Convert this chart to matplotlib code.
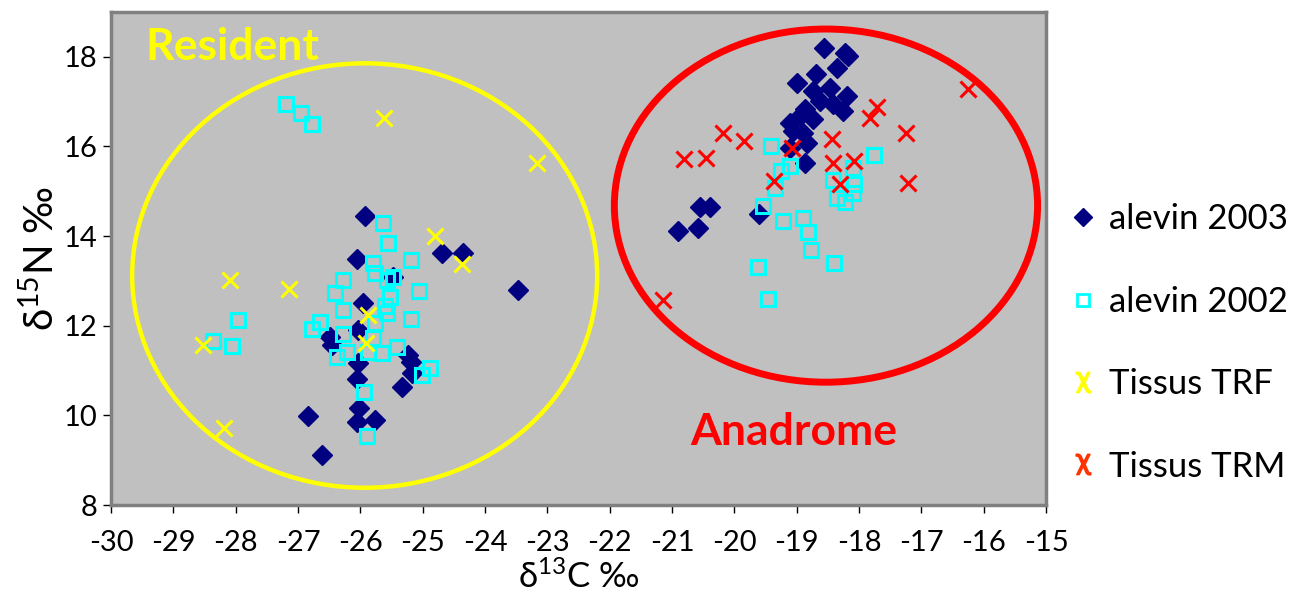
import matplotlib
matplotlib.use("Agg")
import matplotlib.pyplot as plt
from matplotlib.patches import Ellipse
from matplotlib.lines import Line2D

plt.rcParams['font.family'] = ['Lato', 'DejaVu Sans']
plt.rcParams['mathtext.default'] = 'regular'
plt.rcParams['axes.unicode_minus'] = False

# alevin 2003 (navy diamonds)
a2003_x = [-25.93, -26.05, -25.48, -24.69, -24.35, -23.47, -25.96, -26.04, -26.49, -26.45,
           -26.04, -26.05, -25.24, -25.19, -25.17, -25.33, -26.02, -26.05, -25.76, -26.84, -26.61,
           -18.56, -18.22, -18.18, -18.35, -18.69, -18.99, -18.46, -18.19, -18.74, -18.63,
           -18.42, -18.26, -18.87, -18.95, -18.74, -19.11, -19.06, -18.90, -18.83, -19.11,
           -18.87, -20.55, -20.39, -20.90, -20.58, -19.60]
a2003_y = [14.44, 13.48, 13.08, 13.63, 13.63, 12.79, 12.50, 11.90, 11.74, 11.56,
           11.16, 10.81, 11.34, 11.18, 10.94, 10.63, 10.16, 9.85, 9.89, 9.98, 9.11,
           18.20, 18.09, 18.02, 17.76, 17.62, 17.42, 17.31, 17.13, 17.24, 17.02,
           16.95, 16.80, 16.84, 16.69, 16.62, 16.53, 16.35, 16.29, 16.08, 15.97,
           15.62, 14.64, 14.64, 14.12, 14.17, 14.50]

# alevin 2002 (cyan hollow squares)
a2002_x = [-27.19, -26.95, -26.78, -27.96, -28.36, -28.06, -25.64, -25.56, -25.19, -25.80,
           -25.76, -25.48, -25.57, -26.28, -25.06, -26.41, -25.52, -25.60, -26.28, -25.57,
           -25.19, -25.76, -26.65, -26.78, -26.28, -25.80, -26.21, -26.37, -25.88, -25.65,
           -25.41, -24.88, -25.01, -25.94, -25.89,
           -19.41, -17.76, -19.11, -19.25, -19.35, -18.42, -18.10, -18.08, -18.35, -18.22,
           -18.10, -19.54, -19.22, -18.90, -18.82, -18.77, -18.40, -19.62, -19.46]
a2002_y = [16.95, 16.75, 16.49, 12.12, 11.65, 11.54, 14.30, 13.84, 13.46, 13.39,
           13.17, 13.08, 13.01, 13.01, 12.77, 12.72, 12.65, 12.45, 12.34, 12.28,
           12.16, 12.05, 12.08, 11.92, 11.81, 11.72, 11.41, 11.30, 11.41, 11.39,
           11.52, 11.05, 10.90, 10.52, 9.54,
           16.02, 15.80, 15.57, 15.46, 15.08, 15.26, 15.53, 15.17, 14.84, 14.75,
           14.97, 14.68, 14.33, 14.41, 14.10, 13.68, 13.41, 13.30, 12.59]

# Tissus TRF (yellow x)
trf_x = [-25.62, -23.17, -24.80, -24.37, -28.09, -27.14, -28.52, -25.88, -25.91, -28.19]
trf_y = [16.64, 15.64, 14.01, 13.37, 13.01, 12.83, 11.56, 12.25, 11.61, 9.71]

# Tissus TRM (red x)
trm_x = [-20.18, -19.84, -20.81, -20.45, -19.07, -19.36, -18.43, -18.42, -18.08, -18.30,
         -17.71, -17.82, -17.25, -17.21, -21.14, -16.25]
trm_y = [16.29, 16.13, 15.73, 15.75, 15.97, 15.24, 16.17, 15.62, 15.68, 15.17,
         16.89, 16.64, 16.31, 15.19, 12.57, 17.29]

labels = ['alevin 2003', 'alevin 2002', 'Tissus TRF', 'Tissus TRM']
x_ticks = list(range(-30, -14))
y_ticks = [8, 10, 12, 14, 16, 18]

NAVY = '#000080'
CYAN = '#00FFFF'
YEL = '#FFFF00'
RED = '#FF0000'

fig = plt.figure(figsize=(13.05, 6.08), dpi=100)
ax = fig.add_axes([111/1305, 103/608, 935/1305, 493/608])
ax.set_facecolor('#C0C0C0')

ax.plot(a2003_x, a2003_y, linestyle='none', marker='D', markersize=10,
        color=NAVY, markeredgecolor=NAVY, zorder=3)
ax.plot(a2002_x, a2002_y, linestyle='none', marker='s', markersize=10,
        markerfacecolor='none', markeredgecolor=CYAN, markeredgewidth=2.2, zorder=4)
ax.plot(trf_x, trf_y, linestyle='none', marker='x', markersize=11,
        color=YEL, markeredgewidth=2.2, zorder=5)
ax.plot(trm_x, trm_y, linestyle='none', marker='x', markersize=11,
        color=RED, markeredgewidth=2.2, zorder=5)

ax.add_patch(Ellipse((-25.93, 13.12), 7.46, 9.47, fill=False, edgecolor=YEL,
                     linewidth=3.2, zorder=2))
ax.add_patch(Ellipse((-18.53, 14.68), 6.79, 7.88, fill=False, edgecolor=RED,
                     linewidth=5, zorder=2))

ax.text(-29.45, 18.22, 'Resident', color=YEL, fontsize=32, fontweight='bold',
        ha='left', va='center')
ax.text(-19.05, 9.62, 'Anadrome', color=RED, fontsize=32, fontweight='bold',
        ha='center', va='center')

ax.set_xlim(-30, -15)
ax.set_ylim(8, 19)
ax.set_xticks(x_ticks)
ax.set_yticks(y_ticks)
ax.tick_params(axis='both', labelsize=21, length=6, width=1, direction='out', colors='black')
ax.tick_params(axis='x', pad=12)
for s in ax.spines.values():
    s.set_color('#808080')
    s.set_linewidth(2.5)

ax.set_xlabel('δ$^{13}$C ‰', fontsize=25, labelpad=3)
ax.set_ylabel('δ$^{15}$N ‰', fontsize=29, labelpad=2)

handles = [
    Line2D([], [], linestyle='none', marker='D', markersize=9, color=NAVY),
    Line2D([], [], linestyle='none', marker='s', markersize=9, markerfacecolor='none',
           markeredgecolor=CYAN, markeredgewidth=2),
    Line2D([], [], linestyle='none', marker=r'$\chi$', markersize=15, color=YEL),
    Line2D([], [], linestyle='none', marker=r'$\chi$', markersize=15, color='#FF3300'),
]
fig.legend(handles, labels, loc='center left', bbox_to_anchor=(1052/1305, 265/608),
           frameon=False, fontsize=25, labelspacing=1.45, handletextpad=0.25,
           handlelength=1.0, borderaxespad=0)

fig.savefig('out.png', dpi=100)
